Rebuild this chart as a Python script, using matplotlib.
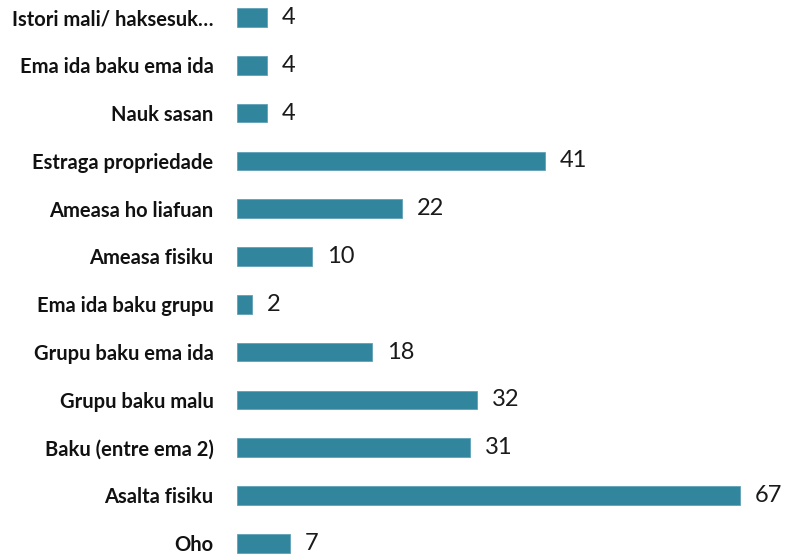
import matplotlib
matplotlib.use("Agg")
import matplotlib.pyplot as plt

# Categories, top to bottom
labels = [
    "Istori mali/ haksesuk…",
    "Ema ida baku ema ida",
    "Nauk sasan",
    "Estraga propriedade",
    "Ameasa ho liafuan",
    "Ameasa fisiku",
    "Ema ida baku grupu",
    "Grupu baku ema ida",
    "Grupu baku malu",
    "Baku (entre ema 2)",
    "Asalta fisiku",
    "Oho",
]
values = [4, 4, 4, 41, 22, 10, 2, 18, 32, 31, 67, 7]

bar_color = "#31859C"

fig = plt.figure(figsize=(7.93, 5.55), dpi=100)
ax = fig.add_axes([237 / 793, 0, 556 / 793, 1])

ypos = list(range(len(labels)))
ax.barh(ypos, values, height=0.39, color=bar_color,
        edgecolor="#5fa3b8", linewidth=0.6)

for y, v in zip(ypos, values):
    ax.text(v + 2.0, y, str(v), va="center", ha="left",
            fontsize=17, family="Lato", color="#1a1a1a")

ax.set_xlim(0, 74.13)
ax.set_ylim(11.245, -0.366)
ax.set_yticks(ypos)
ax.set_yticklabels(labels, fontsize=14.5, fontweight="bold", family="Lato",
                   color="#111111")
ax.tick_params(axis="y", length=0, pad=17)
ax.set_xticks([])
for s in ax.spines.values():
    s.set_visible(False)

fig.savefig("out.png", dpi=100)
